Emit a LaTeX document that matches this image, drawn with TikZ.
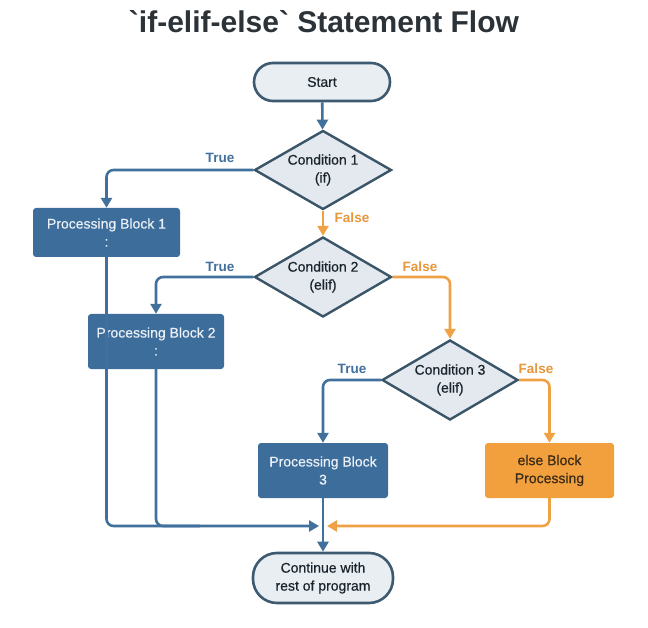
\documentclass[tikz,border=0pt]{standalone}
\usepackage{fontspec}
\setmainfont{Liberation Sans}
\newfontfamily\medfont{Liberation Sans}[FakeBold=0.5]
\usetikzlibrary{shapes.geometric,arrows.meta}
\definecolor{bluefill}{HTML}{3D6D9B}
\definecolor{blueline}{HTML}{41709D}
\definecolor{orangefill}{HTML}{F2A03D}
\definecolor{orangeline}{HTML}{EFA245}
\definecolor{diafill}{HTML}{E3E9EE}
\definecolor{diastroke}{HTML}{3A5468}
\definecolor{termfill}{HTML}{E8EEF2}
\definecolor{termstroke}{HTML}{3D5A70}
\definecolor{darktext}{HTML}{1A242C}
\definecolor{titletext}{HTML}{2B3238}
\definecolor{lighttext}{HTML}{EAF0F6}
\definecolor{elsetext}{HTML}{3A2A18}
\definecolor{falsetext}{HTML}{E8963A}
\begin{document}
\begin{tikzpicture}[x=1pt,y=-1pt,
  every node/.style={font=\medfont\fontsize{14}{18}\selectfont, align=center, text=darktext},
  title/.style={font=\fontsize{30}{34}\selectfont\bfseries, text=titletext},
  terminal/.style={draw=termstroke, fill=termfill, line width=2.6pt, rounded corners=19pt, inner sep=0pt},
  decision/.style={diamond, aspect=1.73, draw=diastroke, fill=diafill, line width=2.4pt, inner sep=0pt},
  process/.style={fill=bluefill, rounded corners=3pt, inner sep=0pt, text=lighttext},
  elseproc/.style={fill=orangefill, rounded corners=3pt, inner sep=0pt, text=elsetext},
  bl/.style={draw=blueline, line width=2.6pt, rounded corners=7pt, -{Triangle[length=10pt,width=11pt]}},
  blplain/.style={draw=blueline, line width=2.6pt, rounded corners=7pt},
  orr/.style={draw=orangeline, line width=2.6pt, rounded corners=7pt, -{Triangle[length=10pt,width=11pt]}},
  truelab/.style={font=\fontsize{13.5}{16}\selectfont\bfseries, text=blueline},
  falselab/.style={font=\fontsize{13.5}{16}\selectfont\bfseries, text=falsetext}
]
\useasboundingbox (0,0) rectangle (648,628);
\fill[white] (0,0) rectangle (648,628);

\node[title] (title) at (324,22) {\textasciigrave if-elif-else\textasciigrave\ Statement Flow};

\node[terminal, minimum width=136pt, minimum height=38pt] (start) at (322,82) {Start};
\node[decision, minimum width=137pt, minimum height=79pt] (c1) at (323,170) {Condition 1\\(if)};
\node[process, minimum width=147pt, minimum height=49pt] (pb1) at (106.5,232.5) {Processing Block 1\\:};
\node[decision, minimum width=137pt, minimum height=80pt] (c2) at (323,277) {Condition 2\\(elif)};
\node[process, minimum width=136pt, minimum height=55pt] (pb2) at (156,341.5) {Processing Block 2\\:};
\node[decision, minimum width=136pt, minimum height=80pt] (c3) at (450,380) {Condition 3\\(elif)};
\node[process, minimum width=130pt, minimum height=55pt] (pb3) at (323,470.5) {Processing Block\\3};
\node[elseproc, minimum width=129pt, minimum height=55pt] (els) at (549.5,470.5) {else Block\\Processing};
\node[terminal, minimum width=140pt, minimum height=50pt, rounded corners=24pt] (cont) at (323,578) {Continue with\\rest of program};

\coordinate (mb) at (319,526);
\coordinate (mo) at (327,526);
\coordinate (pb2join) at (200,526);

\draw[bl] (start) -- (c1);
\draw[bl] (c1.west) -| (pb1.north);
\draw[orr] (c1.south) -- (c2.north);
\draw[bl] (c2.west) -| (pb2.north);
\draw[orr] (c2.east) -| (c3.north);
\draw[bl] (c3.west) -| (pb3.north);
\draw[orr] (c3.east) -| (els.north);
\draw[bl] (pb3.south) -- (cont.north);
\draw[bl] (pb1.south) |- (mb);
\draw[blplain] (pb2.south) |- (pb2join);
\draw[orr] (els.south) |- (mo);

\node[truelab] (t1) at (220,158) {True};
\node[truelab] (t2) at (220,267) {True};
\node[truelab] (t3) at (352,369) {True};
\node[falselab] (f1) at (352,218) {False};
\node[falselab] (f2) at (420,267) {False};
\node[falselab] (f3) at (536,369) {False};
\end{tikzpicture}
\end{document}
